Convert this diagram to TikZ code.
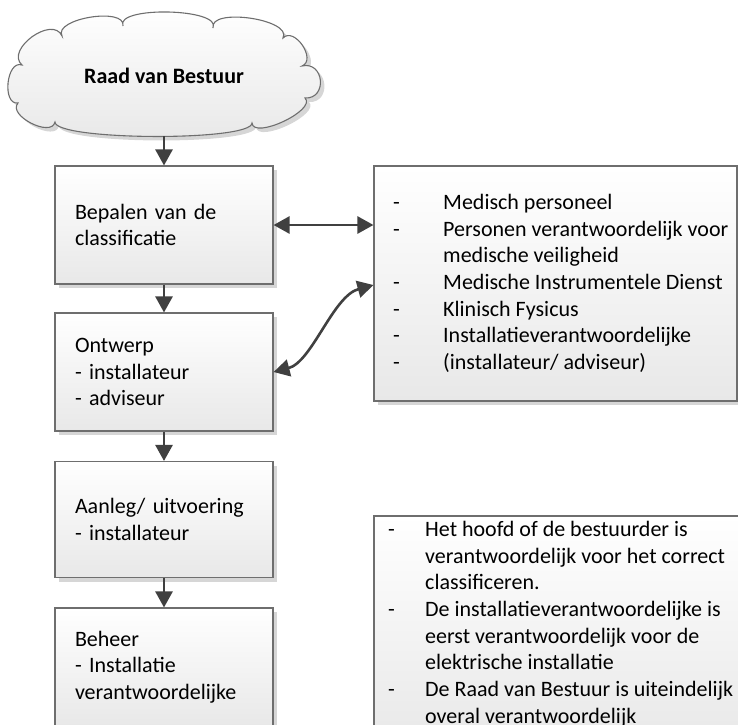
\documentclass[tikz,border=0pt]{standalone}
\usepackage{fontspec}
\setmainfont{Carlito}
\usetikzlibrary{shadows,arrows.meta}
\definecolor{arrowc}{HTML}{404040}
\definecolor{borderc}{HTML}{6E6E6E}
\definecolor{fillbot}{HTML}{E8E8E8}
\definecolor{shadowc}{HTML}{D6D6D6}
\begin{document}
\begin{tikzpicture}[x=1pt,y=1pt,
  every node/.style={font=\fontsize{22pt}{26.7pt}\selectfont},
  boxshape/.style={draw=borderc, line width=1.1pt, top color=white, bottom color=fillbot},
  shadowed/.style={drop shadow={shadow xshift=4pt, shadow yshift=-4pt, fill=shadowc, opacity=1}},
  lbox/.style={boxshape, shadowed, rectangle, minimum width=218pt, minimum height=118pt,
    text width=178pt, inner xsep=20pt, align=left},
  cloudtext/.style={inner sep=0pt, font=\fontsize{22pt}{26.7pt}\selectfont\bfseries},
  listtext/.style={anchor=north west, align=left, inner sep=0pt},
  arr/.style={draw=arrowc, line width=2.6pt, -{Triangle[width=17pt,length=16pt]}},
  darr/.style={draw=arrowc, line width=2.6pt, {Triangle[width=17pt,length=16pt]}-{Triangle[width=17pt,length=16pt]}},
]
\clip (0,0) rectangle (738,-724);

% cloud outline
\draw[boxshape, shadowed] (22,-65)
  .. controls (4.7,-49.6) and (52.7,-14.8) .. (62,-36)
  .. controls (52.9,-18.6) and (126.1,-6.6) .. (123,-26)
  .. controls (114.4,-5.8) and (222.4,-8.2) .. (213,-28)
  .. controls (208.8,-7.2) and (292.8,-19.2) .. (283,-38)
  .. controls (294.3,-26.2) and (317.1,-59.8) .. (302,-66)
  .. controls (324.2,-60.7) and (327.8,-99.1) .. (305,-98)
  .. controls (317.1,-110) and (253.5,-140) .. (252,-123)
  .. controls (251.9,-141.6) and (54.9,-140.6) .. (55,-122)
  .. controls (51.4,-138.1) and (7.0,-115.3) .. (18,-103)
  .. controls (1.7,-105.1) and (6.5,-59.5) .. (22,-65) -- cycle;
\node[cloudtext] (rvb) at (164,-76) {Raad van Bestuur};
\coordinate (rvbbot) at (164,-136);

\node[lbox] (b1) at (164,-225) {Bepalen van de\\classificatie};
\node[lbox] (b2) at (164,-372) {Ontwerp\\- installateur\\- adviseur};
\node[lbox, minimum height=116pt] (b3) at (164,-519.5) {Aanleg/ uitvoering\\- installateur};
\node[lbox] (b4) at (164,-667) {Beheer\\- Installatie\\verantwoordelijke};

\node[boxshape, shadowed, rectangle, minimum width=363pt, minimum height=235pt, inner sep=0pt] (r1) at (555.5,-283.5) {};
\node[listtext] (r1t) at (393,-190.5) {%
\strut\makebox[50pt][l]{-}Medisch personeel\\
\makebox[50pt][l]{-}Personen verantwoordelijk voor\\
\hspace*{50pt}medische veiligheid\\
\makebox[50pt][l]{-}Medische Instrumentele Dienst\\
\makebox[50pt][l]{-}Klinisch Fysicus\\
\makebox[50pt][l]{-}Installatieverantwoordelijke\\
\makebox[50pt][l]{-}(installateur/ adviseur)\strut};

\node[boxshape, rectangle, minimum width=386pt, minimum height=229pt, inner sep=0pt] (r2) at (567,-630.5) {};
\node[listtext] (r2t) at (388,-517.5) {%
\strut\makebox[37pt][l]{-}Het hoofd of de bestuurder is\\
\hspace*{37pt}verantwoordelijk voor het correct\\
\hspace*{37pt}classificeren.\\
\makebox[37pt][l]{-}De installatieverantwoordelijke is\\
\hspace*{37pt}eerst verantwoordelijk voor de\\
\hspace*{37pt}elektrische installatie\\
\makebox[37pt][l]{-}De Raad van Bestuur is uiteindelijk\\
\hspace*{37pt}overal verantwoordelijk\strut};

\draw[arr] (rvbbot) -- (b1.north);
\draw[arr] (b1.south) -- (b2.north);
\draw[arr] (b2.south) -- (b3.north);
\draw[arr] (b3.south) -- (b4.north);

\draw[darr] (b1.east) -- (b1.east -| r1.west);
\draw[darr] (b2.east) .. controls (312,-362) and (333,-296) .. ([yshift=-1.5pt]r1.west);
\end{tikzpicture}
\end{document}
